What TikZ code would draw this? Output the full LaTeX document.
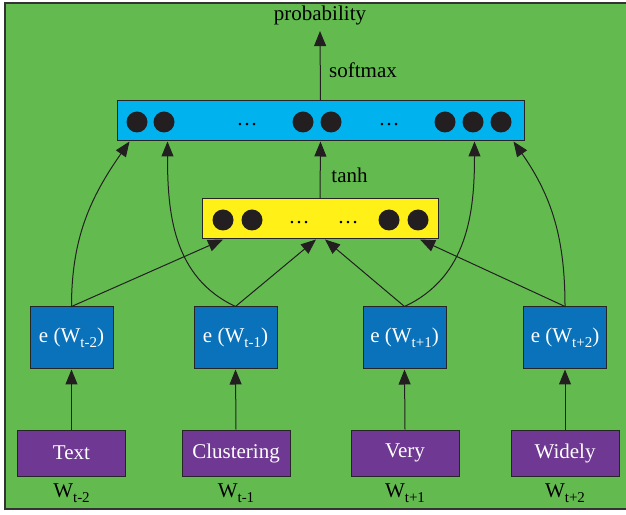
\documentclass[tikz,border=0pt]{standalone}
\usepackage{fontspec}
\setmainfont{Liberation Serif}
\usetikzlibrary{
  arrows.meta
  }

\definecolor{bggreen}{RGB}{99,187,80}
\definecolor{softblue}{RGB}{0,178,238}
\definecolor{hidyellow}{RGB}{255,240,24}
\definecolor{embblue}{RGB}{10,114,186}
\definecolor{wordpurple}{RGB}{111,56,146}
\definecolor{unitblack}{RGB}{35,31,32}

\newcommand{\wsub}[2]{#1\raisebox{-0.55ex}{\fontsize{15}{15}\selectfont #2}}

\begin{document}
\begin{tikzpicture}[x=1pt, y=1pt, >={Triangle[length=15pt,width=12pt]}]
  \tikzstyle{every node}=[font=\fontsize{21}{24}\selectfont]
  \tikzstyle{barbox}=[draw=black!85, line width=1pt, minimum height=40pt, inner sep=0pt]
  \tikzstyle{embbox}=[draw=black!85, line width=1pt, fill=embblue, text=white,
    minimum width=83pt, minimum height=62pt, inner sep=0pt]
  \tikzstyle{wordbox}=[draw=black!85, line width=1pt, fill=wordpurple, text=white,
    minimum width=108pt, minimum height=46pt, inner sep=0pt]
  \tikzstyle{unit}=[circle, fill=unitblack, minimum size=21pt, inner sep=0pt]
  \tikzstyle{link}=[line width=1pt, draw=unitblack, ->]
  %
  \useasboundingbox (0,0) rectangle (626,514);
  \draw[fill=bggreen, draw=black!80, line width=1.5pt] (5,5) rectangle (640,511);
  %
  % output layer
  \node[barbox, fill=softblue, minimum width=407pt] (softbar) at (320.5,393) {};
  \foreach \x in {137,164,303,331,445,473,501}
    \node[unit] (s\x) at (\x,392) {};
  \node (sdotsa) at (247,389) {\ldots};
  \node (sdotsb) at (389,389) {\ldots};
  \node (prob) at (320,499) {probability};
  \node (softlabel) at (363,444) {softmax};
  %
  % hidden layer
  \node[barbox, fill=hidyellow, minimum width=236pt] (hidbar) at (320,295) {};
  \foreach \x in {223,252,389,418}
    \node[unit] (h\x) at (\x,294) {};
  \node (hdotsa) at (299,291) {\ldots};
  \node (hdotsb) at (348,291) {\ldots};
  \node (tanhlabel) at (349.5,339) {tanh};
  %
  % embeddings
  \node[embbox] (e1) at (71.5,176) {e (\wsub{W}{t-2})};
  \node[embbox] (e2) at (235.5,176) {e (\wsub{W}{t-1})};
  \node[embbox] (e3) at (404.5,176) {e (\wsub{W}{t+1})};
  \node[embbox] (e4) at (565,176) {e (\wsub{W}{t+2})};
  %
  % words
  \node[wordbox] (w1) at (71.5,61) {Text};
  \node[wordbox] (w2) at (236,61) {Clustering};
  \node[wordbox] (w3) at (405,61) {Very};
  \node[wordbox] (w4) at (565,61) {Widely};
  \node[anchor=base] (l1) at (71.5,17) {\wsub{W}{t-2}};
  \node[anchor=base] (l2) at (236,17) {\wsub{W}{t-1}};
  \node[anchor=base] (l3) at (405,17) {\wsub{W}{t+1}};
  \node[anchor=base] (l4) at (565,17) {\wsub{W}{t+2}};
  %
  \draw[link] (w1.north) -- (e1.south);
  \draw[link] (w2.north) -- (e2.south);
  \draw[link] (w3.north) -- (e3.south);
  \draw[link] (w4.north) -- (e4.south);
  %
  \draw[link] (e1.north) -- ([xshift=-97pt]hidbar.south);
  \draw[link] (e2.north) -- ([xshift=-4pt]hidbar.south);
  \draw[link] (e3.north) -- ([xshift=5pt]hidbar.south);
  \draw[link] (e4.north) -- ([xshift=100pt]hidbar.south);
  %
  \draw[link] (e1.north) to[out=90, in=-125] ([xshift=13pt]softbar.south west);
  \draw[link] (e2.north) to[out=155, in=-90] ([xshift=51pt]softbar.south west);
  \draw[link] (e3.north) to[out=25, in=-90] ([xshift=-50pt]softbar.south east);
  \draw[link] (e4.north) to[out=90, in=-55] ([xshift=-11pt]softbar.south east);
  %
  \draw[link] (hidbar.north) -- (softbar.south);
  \draw[link] (softbar.north) -- ([yshift=-3pt]prob.south);
\end{tikzpicture}
\end{document}
